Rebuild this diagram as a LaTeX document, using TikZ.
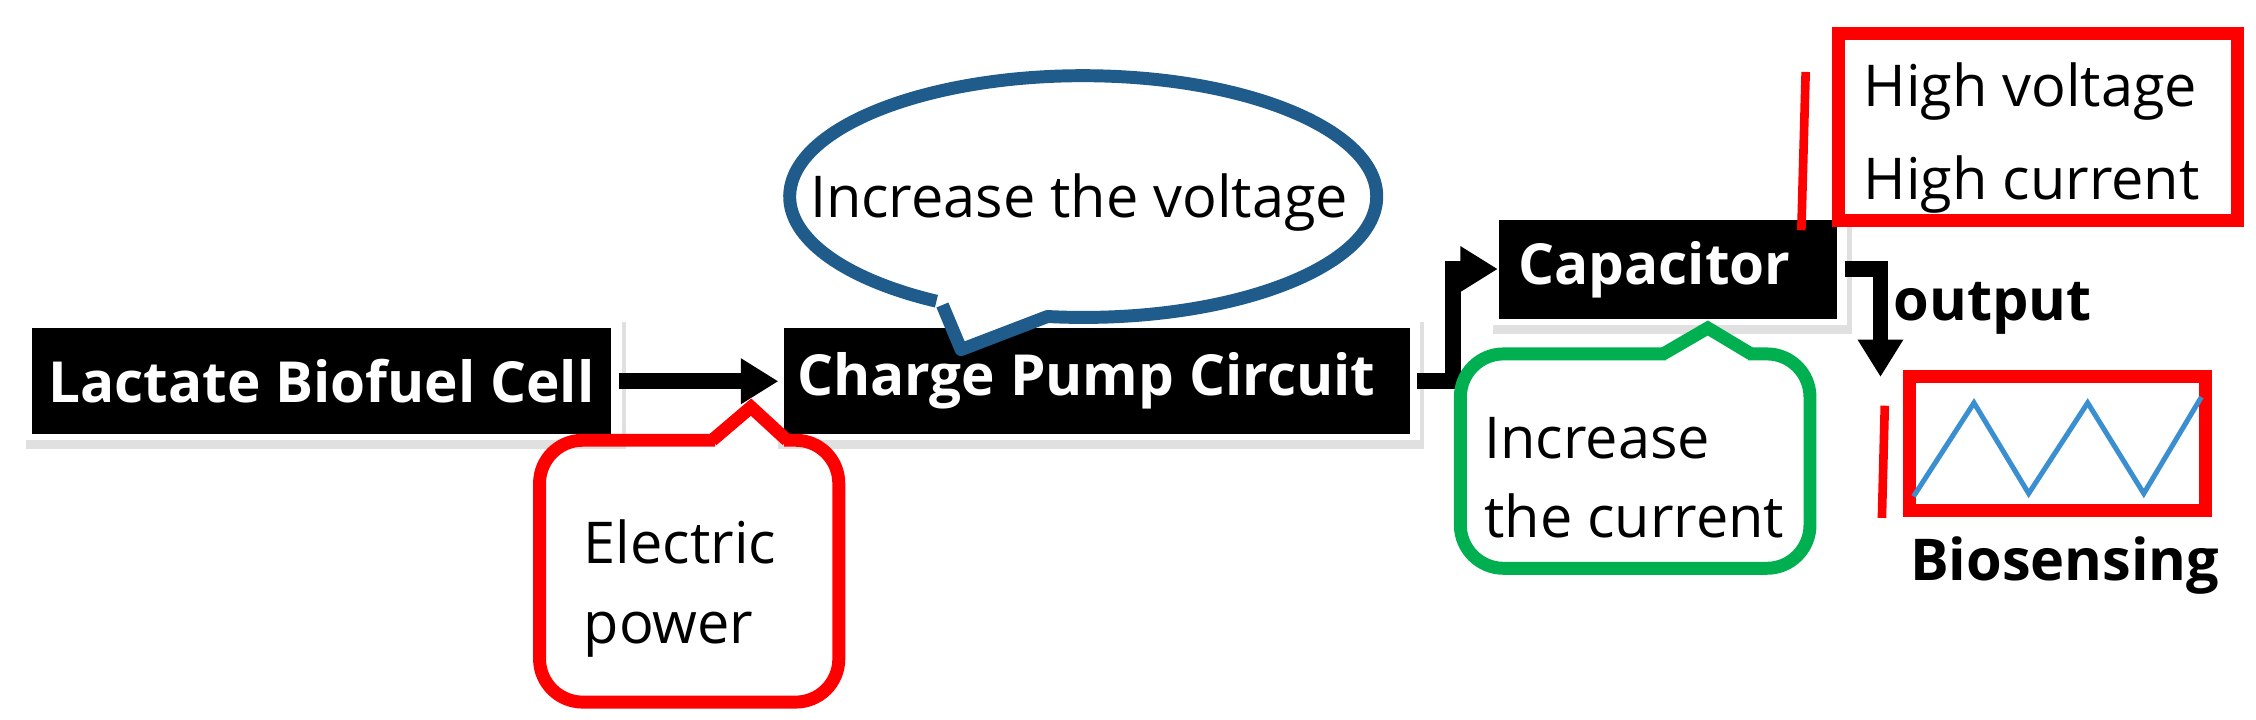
\documentclass[tikz,border=0pt]{standalone}
\usepackage{fontspec}
\setmainfont{Open Sans}
\usetikzlibrary{arrows.meta}
\definecolor{cblue}{HTML}{1F5C8B}
\definecolor{cred}{HTML}{FF0000}
\definecolor{cgreen}{HTML}{00B050}
\definecolor{zig}{HTML}{3A8FD0}
\begin{document}
\begin{tikzpicture}[x=0.1mm,y=-0.1mm,
  blk/.style={fill=black},
  shd/.style={fill=black!12},
  wt/.style={text=white,font=\bfseries\fontsize{11.2}{13}\selectfont,inner sep=0},
  conn/.style={line width=1.1mm,-{Triangle[length=2.6mm,width=3mm]}},
  txt/.style={font=\fontsize{11.4}{14}\selectfont,inner sep=0},
  btxt/.style={font=\bfseries\fontsize{11.4}{14}\selectfont,inner sep=0}]
\useasboundingbox (0,0) rectangle (1568,500);
% boxes with white frame + soft shadow
\fill[shd] (18,224) rectangle (435,312);
\fill[white] (12,215) rectangle (432,306);
\fill[blk] (22,228) rectangle (425,302);
\fill[shd] (541,224) rectangle (990,312);
\fill[white] (535,215) rectangle (987,306);
\fill[blk] (545,228) rectangle (980,302);
\fill[shd] (1038,149) rectangle (1287,232);
\fill[white] (1032,140) rectangle (1284,226);
\fill[blk] (1042,153) rectangle (1277,222);
\node[wt] (lbc) at (223.5,265) {Lactate Biofuel Cell};
\node[wt] (cpc) at (755,265) {Charge Pump Circuit};
\node[wt] (cap) at (1150,187.5) {Capacitor};
% connectors
\coordinate (a1) at (430,265);
\coordinate (a2) at (541,265);
\draw[conn] (a1) -- (a2);
\coordinate (b1) at (985,265);
\coordinate (j1) at (1010,265);
\coordinate (b2) at (1041,187);
\draw[conn] (b1) -- (j1) |- (b2);
\coordinate (c1) at (1282,187);
\coordinate (j2) at (1307,187);
\coordinate (o1) at (1307,262);
\draw[conn] (c1) -- (j2) -- (o1);
\node[btxt] (out) at (1385,214) {output};
% blue speech bubble
\draw[cblue,line width=0.9mm,fill=white,line join=round] (655,212) -- (668,243) -- (728,220)
  arc[start angle=-97,end angle=240,x radius=20.4mm,y radius=8.4mm];
\node[txt] (vol) at (750,141) {Increase the voltage};
% red callout
\draw[cred,line width=0.9mm,rounded corners=3mm] (545,306) -- (583,306) -- (583,488) -- (375,488) -- (375,306) -- (497,306);
\draw[cred,line width=0.9mm,line join=miter] (495,306) -- (522,283) -- (547,306);
\node[txt,align=left,anchor=west] (ep) at (405,409) {Electric\\[0.6mm]power};
% green callout
\draw[cgreen,line width=0.9mm,rounded corners=3mm] (1215,246) -- (1258,246) -- (1258,395) -- (1015,395) -- (1015,246) -- (1158,246);
\draw[cgreen,line width=0.9mm,line join=miter] (1156,246) -- (1187,228) -- (1217,246);
\node[txt,align=left,anchor=west] (ic) at (1031,332) {Increase\\[0.6mm]the current};
% high V/I box
\draw[cred,line width=0.9mm] (1278,23) rectangle (1555,153);
\node[txt,align=left] (hvt) at (1412,96) {High voltage\\[1.5mm]High current};
\draw[cred,line width=0.6mm] (1255,50) -- (1252,160);
% graph box
\draw[cred,line width=0.9mm] (1327,262) rectangle (1533,355);
\draw[zig,line width=0.35mm] (1330,345) -- (1372,280) -- (1410,343) -- (1451,280) -- (1490,343) -- (1530,276);
\draw[cred,line width=0.6mm] (1310,282) -- (1308,360);
\node[btxt] (bio) at (1435,393) {Biosensing};
\end{tikzpicture}
\end{document}
